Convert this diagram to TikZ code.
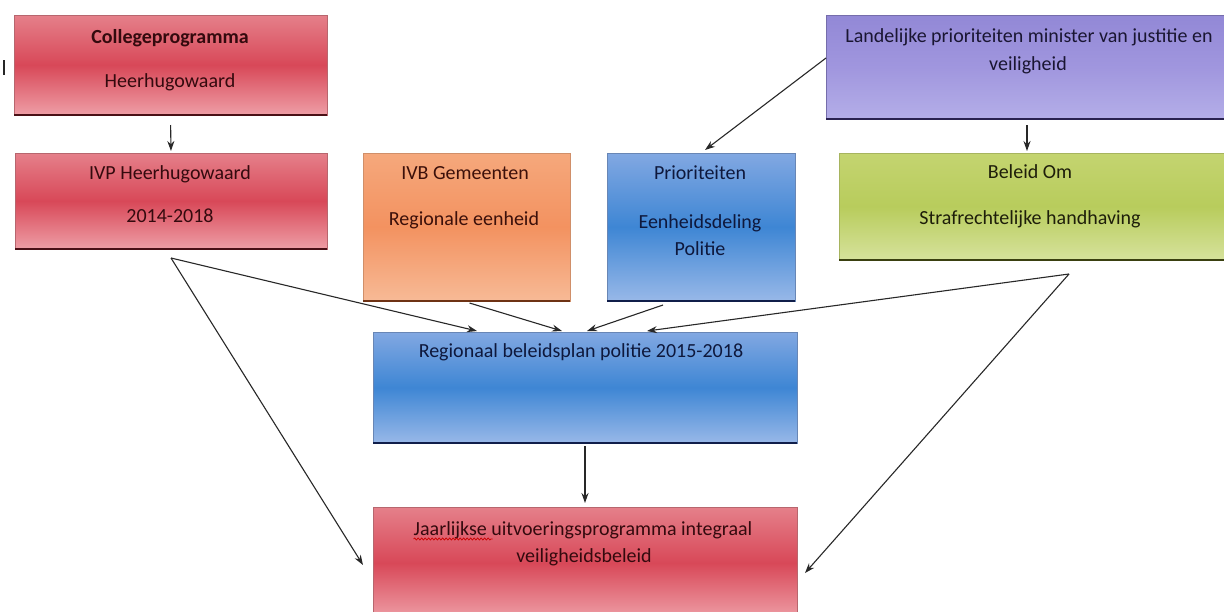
\documentclass[tikz,border=0pt]{standalone}
\usepackage{fontspec}
\setmainfont{Carlito}
\usetikzlibrary{arrows.meta,calc,decorations.pathmorphing}
\definecolor{redtop}{RGB}{229,128,138}
\definecolor{redmid}{RGB}{216,72,88}
\definecolor{redbot}{RGB}{238,158,166}
\definecolor{redline}{RGB}{74,16,22}
\definecolor{redtxt}{RGB}{52,10,14}
\definecolor{ortop}{RGB}{245,168,124}
\definecolor{ormid}{RGB}{243,146,96}
\definecolor{orbot}{RGB}{247,186,150}
\definecolor{orline}{RGB}{110,50,20}
\definecolor{ortxt}{RGB}{60,16,10}
\definecolor{bltop}{RGB}{130,168,226}
\definecolor{blmid}{RGB}{62,134,212}
\definecolor{blbot}{RGB}{152,184,232}
\definecolor{blline}{RGB}{16,30,74}
\definecolor{bltxt}{RGB}{14,24,60}
\definecolor{putop}{RGB}{146,136,214}
\definecolor{pumid}{RGB}{160,150,222}
\definecolor{pubot}{RGB}{180,174,232}
\definecolor{puline}{RGB}{42,34,80}
\definecolor{putxt}{RGB}{26,22,50}
\definecolor{grtop}{RGB}{196,212,112}
\definecolor{grmid}{RGB}{184,204,92}
\definecolor{grbot}{RGB}{214,226,156}
\definecolor{grline}{RGB}{58,64,16}
\definecolor{grtxt}{RGB}{30,30,10}
\definecolor{arrowgray}{RGB}{40,40,40}
\tikzset{
  box/.style={anchor=north west, inner sep=0pt, outer sep=0pt, line width=0.6pt},
  redbox/.style={box, draw=redtop!80!black, top color=redtop, bottom color=redbot, middle color=redmid},
  orbox/.style={box, draw=ortop!85!black, top color=ortop, bottom color=orbot, middle color=ormid},
  bluebox/.style={box, draw=bltop!80!black, top color=bltop, bottom color=blbot, middle color=blmid},
  purbox/.style={box, draw=putop!80!black, top color=putop, bottom color=pubot, middle color=pumid},
  grbox/.style={box, draw=grtop!85!black, top color=grtop, bottom color=grbot, middle color=grmid},
  shadowline/.style={line width=2.5pt},
  txt/.style={anchor=base, inner sep=0pt, font=\fontsize{20}{28}\selectfont},
  conn/.style={draw=arrowgray, line width=1.1pt, -{Stealth[length=10pt,width=7pt]}},
}
\begin{document}
\begin{tikzpicture}[x=1pt,y=-1pt]
\useasboundingbox[fill=white] (0,0) rectangle (1224,611);
% boxes
\node[redbox, minimum width=313pt, minimum height=100pt] (A) at (14,15) {};
\node[redbox, minimum width=312pt, minimum height=96pt] (B) at (15,153) {};
\node[orbox, minimum width=207pt, minimum height=148pt] (C) at (363,153) {};
\node[bluebox, minimum width=188pt, minimum height=148pt] (D) at (607,153) {};
\node[purbox, minimum width=402pt, minimum height=104pt] (E) at (826,15) {};
\node[grbox, minimum width=390pt, minimum height=107pt] (F) at (839,153) {};
\node[bluebox, minimum width=424pt, minimum height=111pt] (G) at (373,332) {};
\node[redbox, minimum width=424pt, minimum height=112pt] (H) at (373,507) {};
% bottom shadows
\draw[shadowline, redline] (A.south west) -- (A.south east);
\draw[shadowline, redline] (B.south west) -- (B.south east);
\draw[shadowline, orline] (C.south west) -- (C.south east);
\draw[shadowline, blline] (D.south west) -- (D.south east);
\draw[shadowline, puline] (E.south west) -- (E.south east);
\draw[shadowline, grline] (F.south west) -- (F.south east);
\draw[shadowline, blline] (G.south west) -- (G.south east);
% texts
\node[txt, text=redtxt, font=\fontsize{20}{28}\selectfont\bfseries] (A1) at (170,43) {Collegeprogramma};
\node[txt, text=redtxt] (A2) at (170,87) {Heerhugowaard};
\node[txt, text=redtxt] (B1) at (170,179) {IVP Heerhugowaard};
\node[txt, text=redtxt] (B2) at (170,222) {2014-2018};
\node[txt, text=ortxt] (C1) at (465,179) {IVB Gemeenten};
\node[txt, text=ortxt] (C2) at (464,225) {Regionale eenheid};
\node[txt, text=bltxt] (D1) at (700,179) {Prioriteiten};
\node[txt, text=bltxt] (D2) at (700,228) {Eenheidsdeling};
\node[txt, text=bltxt] (D3) at (700,255) {Politie};
\node[txt, text=putxt] (E1) at (1029,42) {Landelijke prioriteiten minister van justitie en};
\node[txt, text=putxt] (E2) at (1028,70) {veiligheid};
\node[txt, text=grtxt] (F1) at (1030,178) {Beleid Om};
\node[txt, text=grtxt] (F2) at (1030,224) {Strafrechtelijke handhaving};
\node[txt, text=bltxt] (G1) at (581,357) {Regionaal beleidsplan politie 2015-2018};
\node[txt, text=redtxt] (H1) at (583,535) {Jaarlijkse uitvoeringsprogramma integraal};
\node[txt, text=redtxt] (H2) at (584,562) {veiligheidsbeleid};
\draw[red!80!black, line width=0.7pt, decorate, decoration={snake, amplitude=1pt, segment length=3.5pt}] ([yshift=-4pt]H1.base west) -- ([xshift=79pt,yshift=-4pt]H1.base west);
% stray mark
\draw[line width=1.6pt, black!85] (4,60) -- (4,75);
% connector start points
\coordinate (bs) at ([yshift=-9pt]B.south);
\coordinate (cs) at ([xshift=3pt,yshift=-2pt]C.south);
\coordinate (ds) at ([xshift=56pt,yshift=-4pt]D.south west);
\coordinate (fs) at ([xshift=230pt,yshift=-14pt]F.south west);
% connectors
\draw[conn, shorten <=10pt, shorten >=2pt] (A.south) -- (B.north);
\draw[conn, shorten <=6pt, shorten >=2pt] (E.south) -- (E.south |- F.north);
\draw[conn] ([yshift=9pt]E.west) -- ([xshift=4pt,yshift=3pt]D.north);
\draw[conn] (bs) -- ([xshift=104pt,yshift=1pt]G.north west);
\draw[conn] (cs) -- ([xshift=189pt,yshift=1pt]G.north west);
\draw[conn] (ds) -- ([xshift=214pt,yshift=1pt]G.north west);
\draw[conn] (fs) -- ([xshift=274pt,yshift=1pt]G.north west);
\draw[conn] (bs) -- ([xshift=-10pt,yshift=-58pt]H.north west);
\draw[conn] (fs) -- ([xshift=8pt,yshift=-66pt]H.north east);
\draw[conn, shorten <=3pt, shorten >=4pt] (G.south) -- (H.north);
\end{tikzpicture}
\end{document}
